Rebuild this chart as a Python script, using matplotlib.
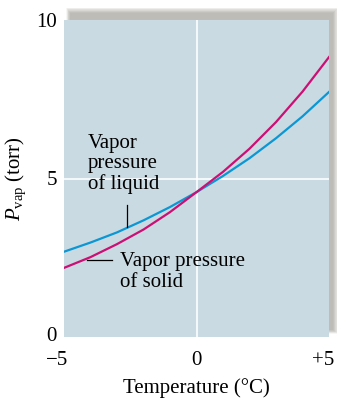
import matplotlib
matplotlib.use("Agg")
import matplotlib.pyplot as plt
import matplotlib.transforms as mtransforms
from matplotlib.patches import Rectangle

# Values (temperature in degC, pressure in torr)
temps = [-5, -4, -3, -2, -1, 0, 1, 2, 3, 4, 5]
p_liquid = [2.69, 2.98, 3.30, 3.68, 4.10, 4.57, 5.08, 5.64, 6.27, 6.96, 7.73]
p_solid = [2.18, 2.52, 2.93, 3.39, 3.94, 4.57, 5.21, 5.94, 6.78, 7.74, 8.83]
x_ticks = [-5, 0, 5]
x_tick_labels = ["\u22125", "0", "+5"]
y_ticks = [0, 5, 10]
y_tick_labels = ["0", "5", "10"]

plt.rcParams["font.family"] = "Liberation Serif"
plt.rcParams["mathtext.fontset"] = "custom"
plt.rcParams["mathtext.rm"] = "Liberation Serif"
plt.rcParams["mathtext.it"] = "Liberation Serif:italic"

W, H = 337, 398
FS = 15
fig = plt.figure(figsize=(W / 100, H / 100), dpi=100)

left, right, top, bottom = 64, 329, 20, 337
ax = fig.add_axes([left / W, 1 - bottom / H, (right - left) / W, (bottom - top) / H])

# soft grey drop shadow behind the top and right edges
core = (70, 13, 333, 330)  # x0, y0(top), x1, y1(bottom) in pixels from top-left
for g in range(10):
    x0, y0, x1, y1 = core[0] - g * 0.4, core[1] - g * 0.6, core[2] + g * 0.6, core[3] + g * 0.4
    fig.patches.append(Rectangle(
        (x0 / W, 1 - y1 / H), (x1 - x0) / W, (y1 - y0) / H,
        transform=fig.transFigure, facecolor="#8c8a7e", edgecolor="none",
        alpha=0.075, zorder=0))

ax.set_facecolor("#c9dae2")
ax.set_zorder(1)
for s in ax.spines.values():
    s.set_visible(False)

ax.axvline(0, color="white", lw=1.2, zorder=1)
ax.axhline(5, color="white", lw=1.2, zorder=1)

ax.plot(temps, p_liquid, color="#0a97d4", lw=1.6, zorder=3)
ax.plot(temps, p_solid, color="#cc0f74", lw=1.6, zorder=3)

ax.set_xlim(-5, 5)
ax.set_ylim(0, 10)
ax.set_xticks(x_ticks, x_tick_labels, fontsize=FS)
ax.set_yticks(y_ticks, y_tick_labels, fontsize=FS)
ax.tick_params(axis="x", length=0, pad=10)
ax.tick_params(axis="y", length=0, pad=5)

# nudge outer tick labels like the reference
xl = ax.get_xticklabels()
xl[0].set_transform(xl[0].get_transform() + mtransforms.ScaledTranslation(-0.07, 0, fig.dpi_scale_trans))
xl[2].set_transform(xl[2].get_transform() + mtransforms.ScaledTranslation(-0.06, 0, fig.dpi_scale_trans))
yl = ax.get_yticklabels()
yl[0].set_transform(yl[0].get_transform() + mtransforms.ScaledTranslation(0, 0.03, fig.dpi_scale_trans))

ax.set_xlabel("Temperature (\u00b0C)", fontsize=FS, labelpad=6)
ax.set_ylabel(r"$P_{\mathrm{vap}}$ (torr)", fontsize=FS, labelpad=6)

ax.text(-4.09, 5.46, "Vapor\npressure\nof liquid", fontsize=FS, va="center",
        ha="left", linespacing=1.1, zorder=4)
ax.plot([-2.62, -2.62], [4.16, 3.47], color="black", lw=0.9, zorder=4)

ax.text(-2.89, 2.05, "Vapor pressure\nof solid", fontsize=FS, va="center",
        ha="left", linespacing=1.1, zorder=4)
ax.plot([-4.13, -3.19], [2.43, 2.43], color="black", lw=0.9, zorder=4)

fig.savefig("out.png", dpi=100)
